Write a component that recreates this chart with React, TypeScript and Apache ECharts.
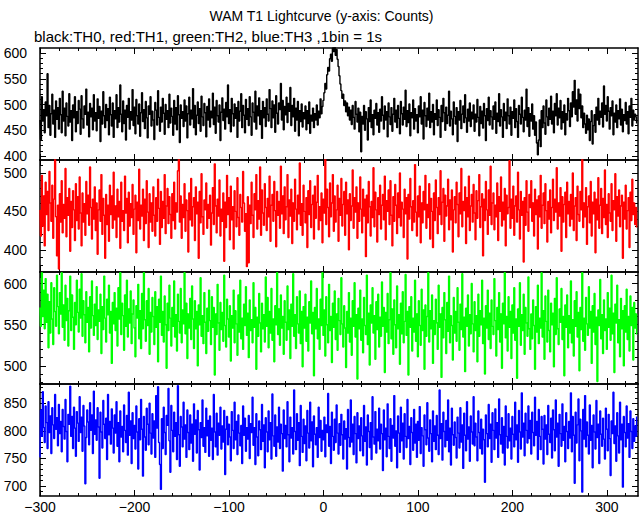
import React, { useEffect, useRef } from "react";
import * as echarts from "echarts";

// Lightcurve: 1 bin = 1 s, first bin at t = -300 s
const T_START = -300;

const TH0 = [
  470, 432, 515, 468, 490, 445, 505, 478, 560, 455, 498, 440, 482, 520, 462, 489, 436, 507, 471, 494,
  452, 512, 480, 445, 526, 468, 493, 439, 503, 477, 458, 521, 466, 488, 430, 499, 474, 515, 447, 486,
  463, 508, 491, 442, 517, 472, 454, 497, 481, 530, 460, 485, 437, 502, 476, 493, 451, 519, 468, 484,
  449, 511, 473, 496, 428, 487, 462, 525, 478, 455, 500, 469, 492, 441, 514, 480, 458, 503, 436, 488,
  472, 519, 455, 494, 466, 538, 481, 447, 507, 463, 489, 431, 498, 475, 512, 452, 486, 470, 529, 459,
  495, 443, 510, 478, 462, 501, 438, 484, 523, 467, 490, 453, 506, 474, 435, 497, 481, 515, 458, 487,
  470, 432, 504, 489, 460, 527, 475, 448, 495, 466, 512, 483, 442, 500, 471, 488, 455, 520, 464, 493,
  477, 440, 508, 462, 494, 451, 517, 480, 426, 499, 473, 486, 457, 509, 468, 497, 435, 482, 514, 460,
  489, 472, 531, 455, 498, 441, 479, 505, 463, 492, 448, 516, 476, 459, 502, 484, 437, 496, 470, 511,
  456, 487, 474, 522, 461, 495, 444, 508, 478, 466, 499, 430, 485, 513, 469, 491, 452, 504, 476, 538,
  463, 490, 447, 512, 482, 458, 501, 473, 494, 436, 506, 468, 487, 521, 455, 498, 479, 445, 510, 471,
  492, 459, 515, 476, 440, 503, 485, 466, 526, 452, 497, 478, 513, 461, 488, 434, 506, 474, 494, 457,
  511, 481, 468, 529, 492, 455, 507, 474, 499, 446, 517, 483, 462, 503, 490, 541, 470, 508, 451, 496,
  480, 514, 465, 502, 487, 533, 459, 498, 476, 512, 448, 493, 470, 506, 439, 488, 467, 501, 456, 484,
  472, 497, 451, 488, 463, 505, 444, 479, 468, 493, 455, 482, 470, 499, 460, 487, 474, 511, 482, 496,
  508, 523, 541, 530, 558, 572, 565, 589, 598, 584, 610, 603, 615, 596, 607, 588, 574, 556, 540, 527,
  512, 520, 498, 507, 486, 503, 478, 495, 470, 489, 461, 498, 475, 452, 506, 481, 466, 493, 447, 485,
  408, 477, 462, 498, 450, 486, 472, 431, 494, 467, 509, 455, 480, 441, 489, 473, 502, 460, 484, 446,
  491, 468, 515, 479, 452, 497, 470, 486, 437, 503, 476, 461, 494, 448, 481, 512, 466, 489, 455, 498,
  473, 443, 506, 482, 460, 495, 471, 528, 457, 488, 465, 501, 439, 484, 474, 509, 452, 492, 468, 480,
  445, 497, 476, 515, 462, 489, 433, 504, 478, 457, 493, 470, 522, 455, 486, 466, 500, 441, 482, 471,
  509, 459, 490, 475, 436, 498, 467, 512, 484, 450, 495, 463, 479, 526, 458, 487, 472, 441, 505, 477,
  462, 494, 428, 486, 470, 508, 453, 481, 497, 465, 519, 474, 446, 491, 468, 503, 457, 485, 472, 499,
  448, 481, 466, 510, 475, 439, 496, 463, 487, 454, 502, 478, 430, 492, 469, 514, 460, 488, 476, 452,
  497, 471, 505, 444, 483, 467, 521, 458, 490, 476, 436, 502, 469, 485, 453, 511, 478, 462, 495, 440,
  486, 473, 509, 455, 492, 467, 436, 498, 481, 462, 514, 475, 447, 489, 470, 530, 457, 494, 438, 482,
  468, 501, 452, 478, 440, 466, 425, 402, 431, 470, 418, 488, 455, 497, 464, 442, 509, 476, 459, 493,
  471, 516, 462, 487, 445, 502, 478, 521, 460, 493, 474, 508, 452, 486, 465, 499, 441, 482, 470, 512,
  488, 457, 503, 476, 525, 495, 547, 481, 509, 468, 530, 492, 520, 474, 497, 455, 483, 462, 444, 479,
  451, 472, 430, 467, 488, 423, 459, 480, 446, 495, 470, 512, 461, 487, 475, 503, 456, 536, 481, 498,
  468, 515, 487, 452, 494, 478, 507, 441, 483, 466, 499, 455, 488, 472, 511, 460, 491, 447, 480, 469,
  504, 462, 486, 443, 497, 475, 512, 458, 489, 470, 481, 476, 463,
];

const TH1 = [
  452, 418, 497, 431, 470, 405, 488, 446, 476, 425, 502, 461, 437, 484, 415, 466, 518, 443, 392, 458,
  375, 473, 436, 490, 422, 459, 441, 506, 417, 468, 445, 480, 398, 463, 429, 477, 452, 412, 486, 438,
  469, 427, 495, 448, 405, 474, 436, 460, 419, 489, 447, 471, 432, 508, 455, 414, 466, 440, 482, 425,
  461, 394, 452, 478, 437, 498, 420, 467, 445, 389, 472, 433, 458, 411, 484, 446, 470, 428, 501, 439,
  457, 416, 479, 443, 463, 402, 488, 437, 451, 425, 496, 448, 467, 409, 475, 431, 460, 442, 485, 420,
  453, 471, 396, 462, 438, 505, 427, 458, 444, 479, 412, 466, 434, 490, 449, 403, 473, 436, 461, 424,
  482, 445, 418, 468, 437, 492, 454, 407, 476, 429, 463, 441, 498, 421, 457, 480, 434, 469, 446, 415,
  473, 438, 488, 427, 461, 449, 503, 521, 436, 470, 415, 459, 442, 486, 424, 465, 451, 397, 474, 439,
  493, 431, 456, 468, 412, 482, 447, 462, 389, 476, 435, 499, 443, 420, 465, 452, 487, 428, 459, 441,
  471, 406, 448, 481, 433, 512, 457, 422, 466, 444, 491, 418, 453, 437, 474, 385, 462, 429, 497, 446,
  468, 413, 483, 439, 456, 401, 477, 450, 430, 494, 442, 419, 472, 455, 436, 502, 461, 424, 447, 378,
  469, 383, 458, 434, 488, 445, 416, 473, 452, 498, 427, 464, 440, 508, 419, 478, 448, 432, 486, 455,
  425, 467, 443, 496, 411, 458, 472, 437, 489, 451, 404, 476, 445, 463, 428, 509, 447, 470, 421, 482,
  439, 456, 498, 416, 465, 444, 479, 408, 461, 437, 492, 453, 426, 471, 447, 513, 432, 460, 419, 484,
  450, 435, 468, 403, 477, 446, 490, 429, 459, 471, 414, 483, 441, 462, 497, 426, 456, 438, 474, 409,
  466, 448, 520, 433, 479, 455, 417, 487, 443, 461, 498, 424, 470, 436, 452, 484, 411, 467, 445, 493,
  431, 459, 476, 419, 488, 447, 465, 400, 473, 438, 457, 504, 428, 468, 449, 482, 415, 461, 437, 495,
  453, 422, 479, 444, 466, 391, 471, 435, 489, 456, 418, 463, 442, 507, 430, 475, 452, 410, 468, 446,
  484, 427, 458, 472, 439, 496, 413, 464, 450, 478, 433, 490, 445, 405, 469, 437, 485, 458, 421, 474,
  442, 500, 431, 462, 453, 416, 479, 447, 468, 388, 472, 440, 493, 456, 425, 464, 436, 511, 449, 418,
  470, 443, 483, 409, 461, 435, 476, 452, 497, 428, 459, 442, 486, 414, 467, 450, 403, 474, 438, 491,
  455, 421, 468, 446, 503, 433, 462, 480, 411, 471, 444, 457, 492, 426, 465, 439, 478, 397, 452, 469,
  435, 488, 459, 417, 474, 447, 506, 430, 463, 451, 482, 408, 468, 443, 496, 425, 457, 472, 436, 485,
  448, 413, 477, 441, 464, 498, 429, 456, 473, 392, 466, 438, 489, 452, 420, 478, 445, 509, 433, 461,
  474, 426, 458, 443, 487, 412, 469, 450, 495, 431, 462, 439, 480, 405, 471, 447, 455, 516, 428, 466,
  441, 483, 419, 457, 470, 436, 501, 452, 414, 476, 445, 463, 384, 468, 432, 490, 449, 424, 472, 455,
  490, 437, 461, 418, 479, 446, 465, 401, 470, 443, 497, 428, 458, 474, 434, 486, 451, 410, 463, 440,
  478, 422, 455, 492, 438, 466, 449, 507, 427, 461, 444, 481, 398, 469, 436, 459, 475, 416, 488, 447,
  463, 431, 472, 440, 500, 425, 457, 468, 412, 483, 446, 437, 476, 452, 521, 429, 461, 443, 481, 407,
  456, 470, 435, 489, 418, 462, 447, 475, 396, 466, 439, 494, 428, 458, 480, 421, 467, 442, 504, 433,
  459, 416, 473, 448, 437, 486, 425, 464, 452, 499, 411, 469, 444, 478, 430, 457, 471, 389, 462, 440,
  484, 427, 451, 468, 403, 475, 438, 492, 446, 461, 433, 455, 429,
];

const TH2 = [
  571, 548, 613, 560, 592, 545, 606, 553, 587, 522, 578, 540, 601, 557, 526, 595, 566, 548, 610, 572,
  539, 589, 563, 613, 547, 574, 531, 598, 555, 582, 524, 567, 609, 543, 586, 559, 520, 577, 550, 604,
  565, 541, 593, 558, 612, 536, 579, 562, 528, 590, 553, 571, 517, 584, 546, 603, 561, 537, 575, 549,
  596, 532, 568, 554, 587, 515, 572, 544, 609, 558, 529, 581, 562, 598, 540, 566, 503, 577, 551, 589,
  543, 570, 524, 595, 557, 613, 538, 576, 561, 519, 586, 548, 604, 535, 569, 552, 591, 527, 563, 580,
  546, 511, 573, 558, 599, 533, 567, 521, 588, 545, 613, 556, 530, 579, 549, 594, 514, 565, 541, 583,
  560, 526, 590, 547, 572, 505, 581, 553, 609, 537, 566, 529, 585, 550, 497, 576, 543, 598, 558, 524,
  571, 548, 603, 535, 562, 518, 587, 554, 540, 594, 528, 568, 551, 613, 539, 576, 509, 563, 546, 582,
  532, 597, 557, 521, 579, 545, 566, 500, 574, 550, 607, 536, 561, 527, 589, 553, 515, 570, 542, 592,
  555, 526, 584, 547, 571, 489, 563, 538, 599, 552, 519, 577, 544, 565, 530, 610, 549, 523, 581, 557,
  535, 573, 506, 561, 546, 592, 528, 567, 551, 513, 586, 541, 604, 533, 558, 520, 575, 549, 596, 537,
  564, 510, 580, 543, 556, 528, 601, 547, 571, 496, 559, 536, 588, 552, 517, 576, 545, 562, 529, 608,
  548, 583, 522, 566, 540, 594, 531, 557, 505, 573, 550, 613, 538, 569, 525, 586, 546, 560, 514, 579,
  553, 531, 597, 544, 568, 509, 575, 548, 612, 536, 562, 521, 584, 551, 540, 591, 527, 566, 499, 572,
  546, 587, 530, 559, 518, 578, 552, 603, 539, 565, 488, 571, 545, 594, 533, 557, 520, 581, 549, 613,
  537, 568, 512, 584, 550, 528, 599, 543, 560, 504, 576, 547, 591, 532, 563, 519, 582, 555, 538, 607,
  551, 523, 573, 546, 498, 566, 540, 589, 529, 558, 513, 579, 548, 601, 535, 562, 484, 570, 545, 592,
  531, 557, 516, 583, 549, 538, 610, 526, 564, 501, 574, 552, 595, 540, 561, 508, 578, 544, 587, 523,
  559, 536, 602, 548, 571, 492, 565, 541, 588, 527, 556, 613, 533, 569, 514, 580, 550, 522, 597, 545,
  562, 502, 576, 539, 590, 528, 554, 611, 537, 566, 489, 572, 547, 584, 518, 558, 541, 604, 530, 563,
  511, 579, 549, 525, 593, 543, 568, 496, 574, 536, 560, 613, 529, 567, 545, 586, 503, 555, 538, 581,
  552, 520, 598, 547, 563, 486, 571, 534, 589, 556, 515, 577, 542, 609, 528, 561, 549, 507, 583, 540,
  566, 530, 595, 553, 519, 575, 544, 612, 535, 559, 493, 570, 548, 586, 524, 562, 539, 600, 551, 517,
  578, 543, 561, 505, 587, 536, 567, 550, 604, 527, 558, 490, 573, 546, 592, 532, 564, 521, 580, 548,
  538, 606, 555, 512, 571, 544, 589, 529, 563, 497, 576, 551, 613, 534, 560, 518, 584, 547, 566, 509,
  574, 540, 595, 531, 557, 485, 569, 548, 601, 525, 562, 543, 587, 514, 571, 552, 536, 608, 545, 520,
  563, 533, 580, 549, 496, 572, 541, 598, 527, 558, 546, 613, 535, 567, 508, 585, 554, 529, 592, 543,
  517, 576, 550, 564, 499, 582, 538, 607, 545, 526, 569, 553, 594, 532, 560, 488, 574, 547, 586, 522,
  561, 540, 603, 528, 556, 512, 579, 548, 590, 535, 565, 494, 571, 544, 613, 530, 558, 519, 583, 551,
  537, 596, 546, 566, 503, 573, 541, 588, 526, 559, 481, 568, 549, 605, 533, 562, 515, 580, 543, 557,
  520, 589, 547, 570, 531, 610, 539, 564, 492, 575, 552, 598, 528, 556, 511, 582, 545, 567, 500, 573,
  541, 593, 532, 560, 518, 585, 549, 571, 507, 577, 546, 563, 538,
];

const TH3 = [
  752, 838, 790, 871, 806, 779, 845, 815, 768, 853, 797, 827, 759, 842, 811, 786, 866, 803, 824, 773,
  848, 795, 817, 762, 839, 808, 785, 857, 799, 744, 830, 812, 881, 790, 826, 768, 843, 805, 754, 835,
  814, 781, 862, 797, 825, 763, 846, 809, 704, 788, 838, 816, 775, 851, 801, 829, 759, 872, 794, 820,
  783, 842, 807, 714, 834, 798, 769, 855, 812, 786, 823, 748, 866, 793, 817, 776, 840, 805, 760, 829,
  796, 853, 772, 815, 744, 836, 789, 808, 762, 847, 801, 779, 828, 756, 870, 792, 818, 741, 833, 786,
  810, 767, 845, 798, 731, 822, 784, 857, 803, 718, 826, 789, 765, 841, 812, 775, 850, 796, 758, 831,
  787, 818, 752, 864, 805, 880, 779, 739, 694, 822, 768, 843, 797, 757, 828, 810, 877, 782, 725, 846,
  801, 762, 834, 790, 815, 748, 882, 793, 736, 826, 807, 771, 852, 785, 811, 752, 838, 797, 766, 829,
  778, 812, 745, 849, 794, 820, 760, 837, 802, 729, 815, 788, 856, 772, 806, 761, 841, 791, 819, 754,
  827, 783, 805, 748, 866, 798, 771, 832, 756, 814, 792, 843, 767, 809, 780, 837, 721, 803, 826, 775,
  812, 789, 746, 835, 801, 768, 852, 784, 817, 757, 829, 796, 773, 810, 741, 845, 792, 823, 763, 806,
  785, 828, 750, 813, 797, 861, 774, 806, 739, 831, 789, 755, 818, 802, 766, 848, 781, 811, 733, 824,
  798, 762, 836, 784, 815, 749, 867, 791, 772, 829, 754, 807, 780, 843, 768, 812, 795, 727, 838, 786,
  810, 771, 853, 793, 744, 825, 787, 806, 758, 874, 799, 766, 831, 783, 815, 737, 846, 790, 761, 821,
  777, 809, 746, 837, 796, 769, 852, 782, 816, 735, 827, 794, 775, 806, 752, 843, 788, 819, 763, 801,
  784, 825, 753, 811, 797, 868, 772, 808, 741, 834, 790, 765, 821, 779, 847, 796, 758, 813, 774, 830,
  793, 749, 818, 785, 804, 731, 839, 788, 771, 856, 780, 812, 757, 826, 795, 742, 833, 786, 809, 764,
  824, 791, 755, 846, 781, 807, 738, 829, 799, 770, 815, 748, 862, 789, 776, 835, 760, 803, 782, 841,
  767, 812, 795, 728, 838, 784, 805, 753, 849, 790, 768, 822, 745, 810, 787, 864, 772, 800, 733, 827,
  796, 761, 843, 782, 814, 749, 831, 790, 770, 857, 786, 808, 739, 824, 797, 765, 839, 778, 812, 752,
  817, 783, 844, 759, 806, 791, 736, 829, 802, 775, 851, 787, 763, 820, 795, 744, 836, 781, 809, 766,
  828, 792, 757, 874, 786, 813, 747, 834, 799, 771, 819, 783, 856, 762, 805, 738, 841, 793, 774, 816,
  788, 751, 825, 796, 769, 842, 780, 811, 732, 832, 792, 764, 853, 785, 807, 745, 827, 798, 776, 862,
  773, 814, 789, 746, 836, 797, 768, 821, 758, 803, 784, 707, 829, 795, 771, 848, 786, 812, 743, 833,
  801, 766, 840, 787, 815, 752, 858, 793, 776, 824, 760, 808, 738, 845, 790, 769, 831, 782, 805, 749,
  826, 794, 771, 852, 784, 811, 743, 837, 798, 767, 869, 789, 814, 755, 832, 801, 778, 845, 786, 819,
  758, 834, 797, 773, 861, 792, 817, 748, 839, 790, 766, 826, 803, 740, 828, 785, 811, 757, 846, 794,
  779, 823, 751, 838, 802, 764, 856, 789, 814, 736, 830, 795, 772, 849, 783, 808, 744, 833, 799, 768,
  817, 787, 869, 762, 826, 792, 705, 834, 778, 811, 858, 746, 821, 800, 689, 839, 785, 864, 771, 816,
  792, 758, 847, 783, 810, 733, 829, 798, 767, 855, 788, 812, 741, 836, 794, 772, 823, 785, 749, 841,
  803, 764, 830, 786, 719, 818, 795, 870, 777, 809, 745, 833, 791, 760, 852, 784, 812, 698, 826, 797,
  771, 845, 787, 813, 752, 836, 799, 768, 822, 781, 809, 790, 826,
];

// Tick values
const X_MAJOR = [-300, -200, -100, 0, 100, 200, 300];
const X_MINOR = [-300, -280, -260, -240, -220, -200, -180, -160, -140, -120, -100, -80, -60, -40, -20, 0, 20, 40, 60, 80, 100, 120, 140, 160, 180, 200, 220, 240, 260, 280, 300, 320];
const Y0_MAJOR = [400, 450, 500, 550, 600];
const Y0_MINOR = [400, 410, 420, 430, 440, 450, 460, 470, 480, 490, 500, 510, 520, 530, 540, 550, 560, 570, 580, 590, 600];
const Y1_MAJOR = [400, 450, 500];
const Y1_MINOR = [380, 390, 400, 410, 420, 430, 440, 450, 460, 470, 480, 490, 500, 510];
const Y2_MAJOR = [500, 550, 600];
const Y2_MINOR = [480, 490, 500, 510, 520, 530, 540, 550, 560, 570, 580, 590, 600, 610];
const Y3_MAJOR = [700, 750, 800, 850];
const Y3_MINOR = [690, 700, 710, 720, 730, 740, 750, 760, 770, 780, 790, 800, 810, 820, 830, 840, 850, 860, 870, 880];

const X_MIN = -300;
const X_MAX = 333;

const PANELS = [
  { data: TH0, color: "#000000", min: 392, max: 610, major: Y0_MAJOR, minor: Y0_MINOR },
  { data: TH1, color: "#ff0000", min: 371, max: 517, major: Y1_MAJOR, minor: Y1_MINOR },
  { data: TH2, color: "#00ff00", min: 478, max: 614, major: Y2_MAJOR, minor: Y2_MINOR },
  { data: TH3, color: "#0000ff", min: 682, max: 885, major: Y3_MAJOR, minor: Y3_MINOR },
];

const FONT = "Liberation Sans, Arial, Helvetica, sans-serif";

const fmt = (v: number) => (v < 0 ? "\u2212" + Math.abs(v) : String(v));

export default function App() {
  const ref = useRef<HTMLDivElement>(null);

  useEffect(() => {
    document.body.style.margin = "0";
    if (!ref.current) return;
    const chart = echarts.init(ref.current, undefined, { renderer: "svg" });

    const GRID_LEFT = 40;
    const GRID_WIDTH = 598;
    const GRID_TOP = 48;
    const GRID_H = 112;

    const grids: any[] = [];
    const xAxes: any[] = [];
    const yAxes: any[] = [];
    const series: any[] = [];

    PANELS.forEach((p, g) => {
      grids.push({
        left: GRID_LEFT,
        width: GRID_WIDTH,
        top: GRID_TOP + g * GRID_H,
        height: GRID_H,
        containLabel: false,
      });
      const last = g === PANELS.length - 1;
      const xBase = (position: string, line: boolean, ticks: number[], len: number, labels: boolean) => ({
        gridIndex: g,
        type: "value",
        position,
        min: X_MIN,
        max: X_MAX,
        axisLine: { show: line, onZero: false, lineStyle: { color: "#000", width: 1.5 } },
        axisTick: { show: true, inside: true, length: len, customValues: ticks, lineStyle: { color: "#000", width: 1 } },
        axisLabel: labels
          ? { show: true, customValues: X_MAJOR, formatter: fmt, color: "#000", fontFamily: FONT, fontSize: 14, margin: 4 }
          : { show: false },
        splitLine: { show: false },
      });
      xAxes.push(xBase("bottom", true, X_MINOR, 3, last));
      xAxes.push(xBase("bottom", false, X_MAJOR, 6, false));
      xAxes.push(xBase("top", true, X_MINOR, 3, false));
      xAxes.push(xBase("top", false, X_MAJOR, 6, false));

      const yBase = (position: string, line: boolean, ticks: number[], len: number, labels: boolean) => ({
        gridIndex: g,
        type: "value",
        position,
        min: p.min,
        max: p.max,
        axisLine: { show: line, onZero: false, lineStyle: { color: "#000", width: 1.5 } },
        axisTick: { show: true, inside: true, length: len, customValues: ticks, lineStyle: { color: "#000", width: 1 } },
        axisLabel: labels
          ? { show: true, customValues: p.major, formatter: fmt, color: "#000", fontFamily: FONT, fontSize: 14, margin: 13 }
          : { show: false },
        splitLine: { show: false },
      });
      yAxes.push(yBase("left", true, p.minor, 3, true));
      yAxes.push(yBase("left", false, p.major, 6, false));
      yAxes.push(yBase("right", true, p.minor, 3, false));
      yAxes.push(yBase("right", false, p.major, 6, false));

      series.push({
        type: "line",
        xAxisIndex: g * 4,
        yAxisIndex: g * 4,
        data: p.data.map((v, i) => [T_START + i, v]),
        step: "middle",
        showSymbol: false,
        symbol: "none",
        clip: true,
        lineStyle: { color: p.color, width: 1.4 },
        itemStyle: { color: p.color },
        silent: true,
      });
    });

    chart.setOption({
      animation: false,
      backgroundColor: "#ffffff",
      title: [
        {
          text: "WAM T1 Lightcurve (y-axis: Counts)",
          left: "center",
          top: 9,
          padding: 0,
          textStyle: { color: "#000", fontFamily: FONT, fontSize: 14, fontWeight: "normal" },
        },
        {
          text: "black:TH0, red:TH1, green:TH2, blue:TH3 ,1bin = 1s",
          left: 34,
          top: 29,
          padding: 0,
          textStyle: { color: "#000", fontFamily: FONT, fontSize: 15, fontWeight: "normal" },
        },
      ],
      grid: grids,
      xAxis: xAxes,
      yAxis: yAxes,
      series,
    });

    return () => chart.dispose();
  }, []);

  return <div ref={ref} style={{ width: 643, height: 515 }} />;
}
